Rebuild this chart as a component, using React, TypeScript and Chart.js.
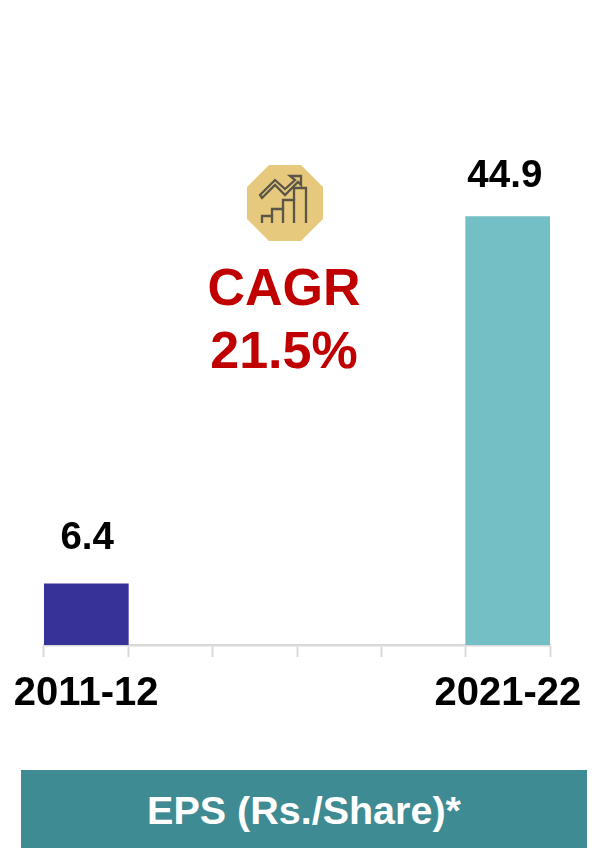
import React, { useEffect, useRef } from "react";
import { Chart, registerables } from "chart.js";

Chart.register(...registerables);

const categories = ["2011-12", "", "", "", "", "2021-22"];
const epsValues = [6.4, null, null, null, null, 44.9];
const barColors = ["#373298", "#74BFC5", "#74BFC5", "#74BFC5", "#74BFC5", "#74BFC5"];
const cagrLines = ["CAGR", "21.5%"];
const bandLabel = "EPS (Rs./Share)*";
const FONT = '"Liberation Sans", Arial, sans-serif';

const valueLabels = {
  id: "valueLabels",
  afterDatasetsDraw(chart: any) {
    const { ctx } = chart;
    const meta = chart.getDatasetMeta(0);
    ctx.save();
    ctx.font = `bold 38.5px ${FONT}`;
    ctx.fillStyle = "#000000";
    ctx.textAlign = "center";
    ctx.textBaseline = "alphabetic";
    meta.data.forEach((bar: any, i: number) => {
      const v = epsValues[i];
      if (v == null) return;
      ctx.fillText(v.toFixed(1), bar.x + (i === 0 ? 1 : -3), bar.y - (i === 0 ? 35 : 30));
    });
    ctx.restore();
  },
};

function Icon() {
  const s = "#5b5548";
  return (
    <svg
      width="76"
      height="76"
      viewBox="0 0 76 76"
      style={{ position: "absolute", left: 247, top: 165 }}
    >
      <polygon points="22,0 54,0 76,22 76,54 54,76 22,76 0,54 0,22" fill="#E6C97C" />
      <g fill="none" stroke={s} strokeWidth="2.3" strokeLinejoin="miter">
        <path d="M15 58 V51 H25 V58" />
        <path d="M25 51 V44 H36 V58" />
        <path d="M36 44 V35 H47 V58" />
        <path d="M47 35 V23 H59 V58" />
        <path d="M13 30 L28 15 L38 24 L48 15 L43 11 H54 V20 L51 17 L38 30 L28 20 L15 33 Z" />
      </g>
    </svg>
  );
}

export default function App() {
  const ref = useRef<HTMLCanvasElement | null>(null);

  useEffect(() => {
    document.body.style.margin = "0";
    const chart = new Chart(ref.current as HTMLCanvasElement, {
      type: "bar",
      data: {
        labels: categories,
        datasets: [
          {
            data: epsValues,
            backgroundColor: barColors,
            borderWidth: 0,
            barPercentage: 1,
            categoryPercentage: 1,
          },
        ],
      },
      options: {
        responsive: false,
        animation: false,
        layout: { padding: { left: 44, right: 42, top: 168, bottom: 120 } },
        plugins: { legend: { display: false }, tooltip: { enabled: false } },
        scales: {
          y: { display: false, min: 0, max: 50 },
          x: {
            offset: true,
            afterFit(scale: any) {
              scale.paddingLeft = 0;
              scale.paddingRight = 0;
            },
            grid: {
              offset: true,
              drawOnChartArea: false,
              drawTicks: true,
              tickLength: 12,
              tickColor: "#D9D9D9",
              tickWidth: 2,
            },
            border: { display: true, color: "#D9D9D9", width: 2.5 },
            ticks: {
              autoSkip: false,
              maxRotation: 0,
              minRotation: 0,
              padding: 13,
              color: "#000000",
              font: { family: FONT, size: 40, weight: "bold" },
            },
          },
        },
      },
      plugins: [valueLabels],
    } as any);
    return () => chart.destroy();
  }, []);

  return (
    <div style={{ position: "fixed", left: 0, top: 0, width: 592, height: 851, background: "#fff", overflow: "hidden", fontFamily: FONT }}>
      <canvas ref={ref} width={592} height={851} style={{ display: "block" }} />
      <Icon />
      <div
        style={{
          position: "absolute",
          left: 134,
          width: 300,
          top: 256,
          textAlign: "center",
          color: "#C00000",
          fontWeight: "bold",
          fontSize: 52,
          lineHeight: "63px",
        }}
      >
        {cagrLines.map((t) => (
          <div key={t}>{t}</div>
        ))}
      </div>
      <div
        style={{
          position: "absolute",
          left: 21,
          top: 770,
          width: 566,
          height: 78,
          background: "#3F8B93",
          color: "#fff",
          fontWeight: "bold",
          fontSize: 39.5,
          lineHeight: "81px",
          textAlign: "center",
          whiteSpace: "nowrap",
        }}
      >
        {bandLabel}
      </div>
    </div>
  );
}
